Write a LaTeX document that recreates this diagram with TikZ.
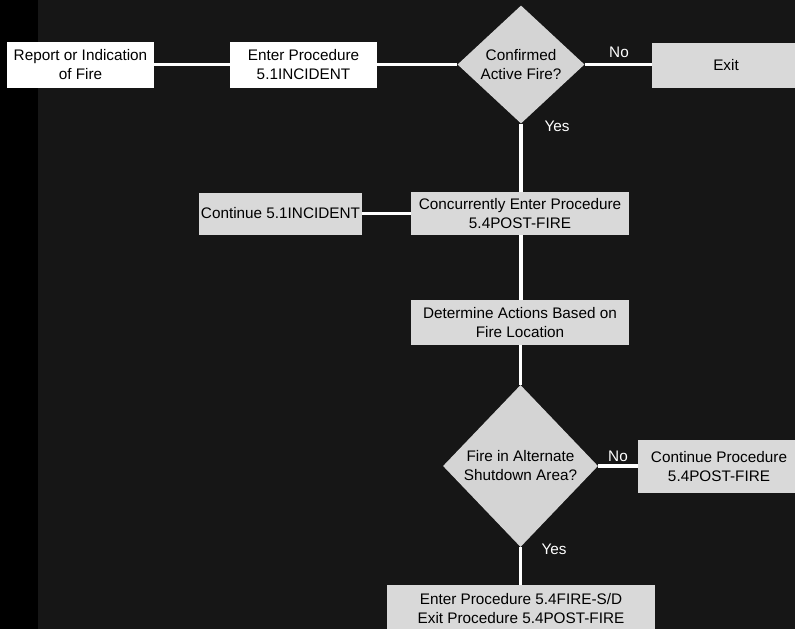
\documentclass[tikz,border=0pt]{standalone}
\usepackage{fontspec}
\setmainfont{Liberation Sans}
\usetikzlibrary{shapes.geometric}
\definecolor{bg}{HTML}{161616}
\definecolor{boxgray}{HTML}{D9D9D9}
\definecolor{diagray}{HTML}{D4D4D4}
\tikzset{
  every node/.style={font=\fontsize{15.3}{19}\selectfont},
  box/.style={draw=none, fill=boxgray, text=black, align=center, inner sep=0pt},
  wbox/.style={box, fill=white},
  dia/.style={diamond, draw=none, fill=diagray, inner sep=0pt},
  dtxt/.style={text=black, align=center, inner sep=0pt},
  conn/.style={draw=white, line width=3.5pt},
  lab/.style={text=white, inner sep=0pt}
}
\begin{document}
\begin{tikzpicture}[x=1pt,y=-1pt]
\useasboundingbox (0,0) rectangle (795,629);
\clip (0,0) rectangle (795,629);
\fill[bg] (0,0) rectangle (795,629);
\fill[black] (0,0) rectangle (38,629);
% nodes
\node[wbox, minimum width=147pt, minimum height=46pt] (b1) at (80.5,64.5) {Report or Indication\\of Fire};
\node[wbox, minimum width=147pt, minimum height=46pt] (b2) at (303.5,64.5) {Enter Procedure\\5.1INCIDENT};
\node[dia, minimum width=127pt, minimum height=118pt] (d1) at (521,64.5) {};
\node[dtxt] (d1t) at (d1.center) {Confirmed\\Active Fire?};
\node[box, minimum width=148pt, minimum height=45pt] (ex) at (726,65.5) {Exit};
\node[box, minimum width=218pt, minimum height=43pt] (b3) at (520,213.5) {Concurrently Enter Procedure\\5.4POST-FIRE};
\node[box, minimum width=163pt, minimum height=42pt] (c1) at (280.5,213.5) {Continue 5.1INCIDENT};
\node[box, minimum width=218pt, minimum height=45pt] (b4) at (520,322.5) {Determine Actions Based on\\Fire Location};
\node[dia, minimum width=155pt, minimum height=162pt] (d2) at (520.5,466) {};
\node[dtxt] (d2t) at (d2.center) {Fire in Alternate\\Shutdown Area?};
\node[box, minimum width=162pt, minimum height=53pt] (c2) at (719,466.5) {Continue Procedure\\5.4POST-FIRE};
\node[box, minimum width=268pt, minimum height=48pt] (b5) at (521,609) {Enter Procedure 5.4FIRE-S/D\\Exit Procedure 5.4POST-FIRE};
% connectors
\draw[conn] (b1.east) -- (b2.west);
\draw[conn] (b2.east) -- (d1.west);
\draw[conn] (d1.east) -- (d1.east -| ex.west);
\draw[conn] (d1.south) -- (d1.south |- b3.north);
\draw[conn] (b3.west) -- (c1.east);
\draw[conn] (b3.south -| d1.south) -- (d1.south |- b4.north);
\draw[conn] (b4.south -| d2.north) -- (d2.north);
\draw[conn] (d2.east) -- (d2.east -| c2.west);
\draw[conn] (d2.south) -- (d2.south |- b5.north);
% labels
\node[lab] (n1) at (619,52) {No};
\node[lab] (y1) at (557,126) {Yes};
\node[lab] (n2) at (618,456) {No};
\node[lab] (y2) at (554,549) {Yes};
\end{tikzpicture}
\end{document}
